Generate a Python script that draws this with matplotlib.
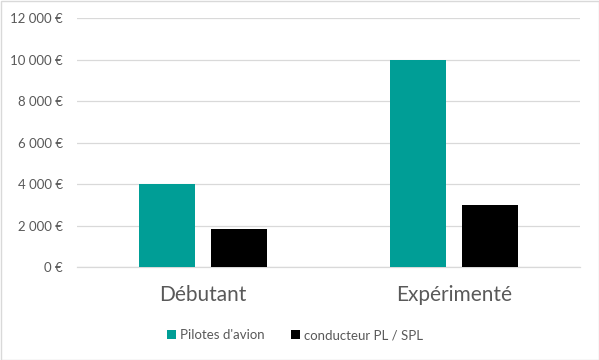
import matplotlib
matplotlib.use("Agg")
import matplotlib.pyplot as plt
import numpy as np
from matplotlib.ticker import FuncFormatter
from matplotlib.patches import Rectangle

categories = ["Débutant", "Expérimenté"]
series_names = ["Pilotes d'avion", "conducteur PL / SPL"]
pilotes = [4000, 10000]
conducteurs = [1850, 3000]
yticks = [0, 2000, 4000, 6000, 8000, 10000, 12000]

plt.rcParams['font.family'] = ['Lato', 'DejaVu Sans']

fig = plt.figure(figsize=(5.99, 3.60), dpi=100)
ax = fig.add_axes([77/599, 1-267/360, (580-77)/599, (267-18)/360])

x = np.arange(len(categories))
w = 0.223
off = 0.143
ax.bar(x - off, pilotes, w, color="#009E96", label=series_names[0], zorder=3)
ax.bar(x + off, conducteurs, w, color="#000000", label=series_names[1], zorder=3)

ax.set_xlim(-0.5, 1.5)
ax.set_ylim(0, 12000)
ax.set_yticks(yticks)
ax.yaxis.set_major_formatter(FuncFormatter(lambda v, p: f"{int(v):,}".replace(",", " ") + " €"))
ax.set_xticks(x)
ax.set_xticklabels(categories, fontsize=15, color="#595959")
ax.tick_params(axis='y', length=0, labelsize=9.5, labelcolor="#595959", pad=10)
ax.tick_params(axis='x', length=0, pad=13)
ax.grid(axis='y', color="#D9D9D9", linewidth=0.9, zorder=0)
for s in ["top", "right", "left"]:
    ax.spines[s].set_visible(False)
ax.spines["bottom"].set_color("#D9D9D9")
ax.spines["bottom"].set_linewidth(0.9)

fig.legend(loc="center", bbox_to_anchor=(0.492, 1-335/360), ncol=2, frameon=False,
           fontsize=9.5, handlelength=0.7, handleheight=0.7, handletextpad=0.3,
           columnspacing=2.0, labelcolor="#595959")

fig.patches.append(Rectangle((0.5/599, 0.5/360), 1-1/599, 1-1/360, transform=fig.transFigure,
                             fill=False, edgecolor="#D9D9D9", linewidth=1.0))

fig.savefig("out.png", dpi=100)
